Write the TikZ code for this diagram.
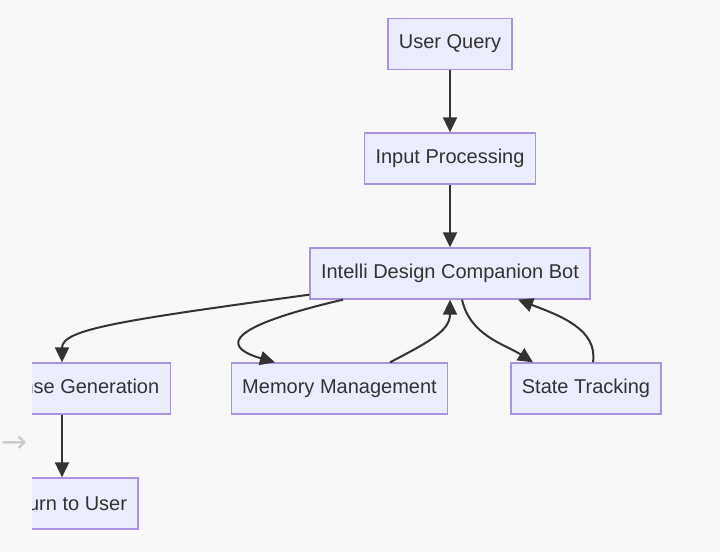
\documentclass[tikz,border=0pt]{standalone}
\usepackage{fontspec}
\setmainfont{Liberation Sans}
\newfontfamily\symfont{DejaVu Sans}
\usetikzlibrary{arrows.meta,calc}
\definecolor{boxfill}{HTML}{ECECFF}
\definecolor{boxline}{HTML}{AC93E2}
\definecolor{ink}{HTML}{333333}
\definecolor{canvas}{HTML}{F8F8F8}
\definecolor{hintgray}{HTML}{CCCCCC}

\begin{document}
\begin{tikzpicture}[x=1pt,y=-1pt,>={Triangle[length=15pt,width=14pt]},
        box/.style={draw=boxline,fill=boxfill,line width=1.3pt,text=ink,
                minimum height=51pt,inner xsep=11pt,font=\fontsize{20}{24}\selectfont},
        link/.style={->,draw=ink,line width=2pt}]
        % the canvas
        \fill[canvas] (0,0) rectangle (720,552);
        \useasboundingbox (0,0) rectangle (720,552);

        % the grey arrow on the left edge
        \node[text=hintgray,font=\symfont\fontsize{31}{31}\selectfont] (hint) at (14,444) {→};

        \begin{scope}
        \clip (32,0) rectangle (720,552);

        % draw the boxes
        \foreach \name/\x/\y/\btext in {
            query/450/44/User Query,
            input/450/158.5/Input Processing,
            bot/450/273.5/Intelli Design Companion Bot,
            respgen/62/388.5/Response Generation,
            memory/339.5/388.5/Memory Management,
            state/586/388.5/State Tracking,
            ret/62/503.5/Return to User}
                \node[box] (\name) at (\x,\y) {\btext};

        % straight links
        \draw[link] (query) -- (input);
        \draw[link] (input) -- (bot);
        \draw[link] (respgen) -- (ret);

        % curved links below the bot
        \draw[link] ($(bot.south west)+(0,-5)$) .. controls +(-190,26) and +(0,-33) .. (respgen.north);
        \draw[link] ($(bot.south)+(-107,0)$) .. controls +(-133,31) and +(-45,-13) .. ($(memory.north)+(-64.5,0)$);
        \draw[link] ($(memory.north)+(50.5,0)$) .. controls +(40,-21) and +(0,31) .. (bot.south);
        \draw[link] ($(bot.south)+(12,0)$) .. controls +(8,36) and +(-28,-18) .. ($(state.north)+(-53,0)$);
        \draw[link] ($(state.north)+(7,0)$) .. controls +(5,-33) and +(42,16) .. ($(bot.south)+(68,0)$);
        \end{scope}
\end{tikzpicture}
\end{document}
